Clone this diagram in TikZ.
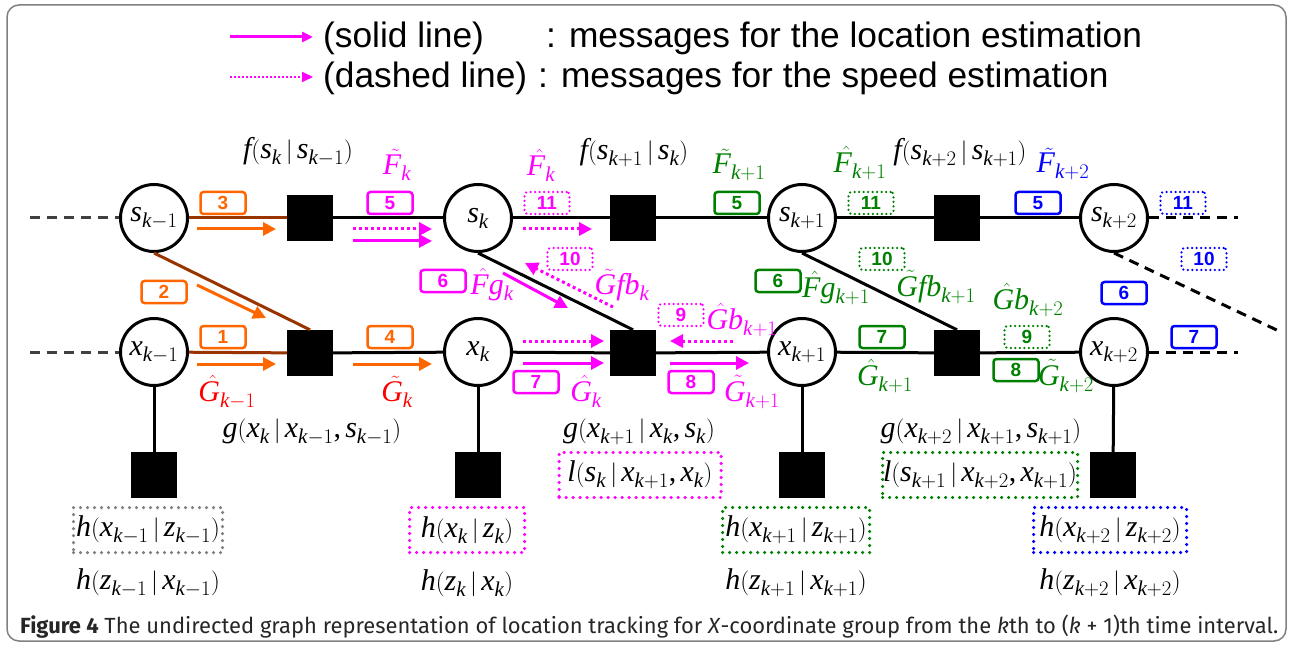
\documentclass[tikz,border=0pt]{standalone}
\usepackage{fontspec}
\setmainfont{Liberation Serif}
\newfontfamily\arialf{Liberation Sans}
\newfontfamily\capf{Fira Sans}
\DeclareSymbolFont{letters}{TU}{\rmdefault}{m}{it}
\DeclareSymbolFont{trm}{TU}{\rmdefault}{m}{n}
\DeclareMathSymbol{0}{\mathalpha}{trm}{`0}
\DeclareMathSymbol{1}{\mathalpha}{trm}{`1}
\DeclareMathSymbol{2}{\mathalpha}{trm}{`2}
\DeclareMathSymbol{(}{\mathopen}{trm}{`(}
\DeclareMathSymbol{)}{\mathclose}{trm}{`)}
\DeclareMathSymbol{,}{\mathpunct}{trm}{`,}
\DeclareMathSymbol{+}{\mathbin}{trm}{`+}
\usepackage{graphicx}
\usetikzlibrary{arrows.meta}
\definecolor{mag}{RGB}{255,0,255}
\definecolor{org}{RGB}{255,102,0}
\definecolor{brn}{RGB}{153,51,0}
\definecolor{grn}{RGB}{0,128,0}
\definecolor{blu}{RGB}{0,0,255}
\definecolor{rd}{RGB}{255,0,0}
\definecolor{gry}{RGB}{128,128,128}
\definecolor{dgry}{RGB}{64,64,64}
\newcommand\mfont{\fontsize{30}{34}\selectfont}
\newcommand\nfont{\arialf\bfseries\fontsize{19}{19}\selectfont}
\newcommand\hatx[1]{\skew{5}{\hat}{#1}}
\newcommand\tilx[1]{\skew{5}{\tilde}{#1}}
\tikzset{
  var/.style={circle,draw,line width=3pt,minimum size=67pt,inner sep=0pt,font=\mfont},
  fac/.style={fill=black,minimum size=46pt,inner sep=0pt},
  num/.style={draw,rounded corners=3pt,line width=2.5pt,minimum width=45pt,minimum height=22pt,inner sep=0pt,font=\nfont,text=black},
  numdot/.style={num,dash pattern=on 0pt off 4.5pt,line cap=round},
  lab/.style={font=\mfont,inner sep=0pt},
  fbox/.style={dash pattern=on 0pt off 7pt,line cap=round,line width=3.5pt,inner sep=0pt,minimum height=45pt,font=\mfont,text=black},
  edge/.style={line width=3pt},
  dashedge/.style={line width=3pt,dash pattern=on 10pt off 7pt},
  msg/.style={line width=3pt,-{Triangle[length=13pt,width=13pt]}},
  msgdot/.style={msg,dash pattern=on 3pt off 3pt},
  legtext/.style={anchor=base west,inner sep=0pt,font=\arialf\fontsize{35.3}{36}\selectfont},
}
\begin{document}
\begin{tikzpicture}[x=1pt,y=-1pt]
\useasboundingbox (0,0) rectangle (1291,647);
\draw[gry,line width=1.5pt,rounded corners=12pt] (7,5) rectangle (1286,641);

% legend
\coordinate (la1) at (230,37); \coordinate (la2) at (313,37);
\coordinate (lb1) at (230,77); \coordinate (lb2) at (313,77);
\draw[mag,line width=3pt,-{Triangle[length=11pt,width=10pt]}] (la1) -- (la2);
\draw[mag,line width=2pt,dash pattern=on 2pt off 2pt,-{Triangle[length=11pt,width=10pt]}] (lb1) -- (lb2);
\node[legtext] (lt1) at (323,48) {(solid line)};
\node[legtext] (lt2) at (546,48) {: messages for the location estimation};
\node[legtext] (lt3) at (323,88) {(dashed line)};
\node[legtext] (lt4) at (538,88) {: messages for the speed estimation};

% variable nodes
\node[var] (sA) at (154,218) {$s_{k-1}$};
\node[var] (sB) at (478,218) {$s_k$};
\node[var] (sC) at (802,218) {$s_{k+1}$};
\node[var] (sD) at (1114,218) {$s_{k+2}$};
\node[var] (xA) at (154,352) {$x_{k-1}$};
\node[var] (xB) at (478,352) {$x_k$};
\node[var] (xC) at (802,352) {$x_{k+1}$};
\node[var] (xD) at (1114,352) {$x_{k+2}$};
% factor nodes
\node[fac] (fA) at (310,218) {};
\node[fac] (fB) at (633,218) {};
\node[fac] (fC) at (957,218) {};
\node[fac] (gA) at (310,353) {};
\node[fac] (gB) at (633,353) {};
\node[fac] (gC) at (957,353) {};
\node[fac] (hA) at (154,475) {};
\node[fac] (hB) at (478,475) {};
\node[fac] (hC) at (802,475) {};
\node[fac] (hD) at (1113,475) {};

% edges
\draw[edge,brn] (sA) -- (fA);
\draw[edge,brn] (sA.south) -- (gA.north);
\draw[edge,brn] (xA) -- (gA);
\draw[edge] (fA) -- (sB) -- (fB) -- (sC) -- (fC) -- (sD);
\draw[edge] (gA) -- (xB) -- (gB) -- (xC) -- (gC) -- (xD);
\draw[edge] (sB.south) -- (gB.north);
\draw[edge] (sC.south) -- (gC.north);
\draw[edge] (xA) -- (hA);
\draw[edge] (xB) -- (hB);
\draw[edge] (xC) -- (hC);
\draw[edge] (xD) -- (hD);
\coordinate (lA) at (30,218); \coordinate (lB) at (30,352);
\coordinate (rA) at (1238,218); \coordinate (rB) at (1238,352); \coordinate (rC) at (1283,333);
\draw[dashedge,dgry] (lA) -- (sA);
\draw[dashedge,dgry] (lB) -- (xA);
\draw[dashedge] (sD) -- (rA);
\draw[dashedge] (xD) -- (rB);
\draw[dashedge] (sD.south) -- (rC);

% message arrows
\draw[msg,org] (197,229) -- (276,229);
\draw[msg,org] (197,285) -- (266,318);
\draw[msg,org] (197,364) -- (276,364);
\draw[msg,org] (353,364) -- (432,364);
\draw[msgdot,mag] (353,229) -- (432,229);
\draw[msg,mag] (353,241) -- (432,241);
\draw[msgdot,mag] (523,229) -- (592,229);
\draw[msg,mag] (503,273) -- (568,308);
\draw[msgdot,mag] (613,307) -- (525,263);
\draw[msgdot,mag] (523,341) -- (604,341);
\draw[msg,mag] (523,363) -- (604,363);
\draw[msgdot,mag] (733,341) -- (670,341);
\draw[msg,mag] (670,363) -- (749,363);

% number boxes
\node[num,org] (n3) at (223,203) {3};
\node[num,org] (n2) at (164,292) {2};
\node[num,org] (n1) at (223,337) {1};
\node[num,org] (n4) at (390,337) {4};
\node[num,mag] (n5a) at (390,203) {5};
\node[numdot,mag] (n11a) at (547,203) {11};
\node[numdot,mag] (n10a) at (570,259) {10};
\node[num,mag] (n6a) at (443,281) {6};
\node[numdot,mag] (n9a) at (681,315) {9};
\node[num,mag] (n7a) at (536,382) {7};
\node[num,mag] (n8a) at (691,382) {8};
\node[num,grn] (n5b) at (737,203) {5};
\node[numdot,grn] (n11b) at (871,203) {11};
\node[numdot,grn] (n10b) at (882,259) {10};
\node[num,grn] (n6b) at (778,281) {6};
\node[num,grn] (n7b) at (882,337) {7};
\node[numdot,grn] (n9b) at (1027,337) {9};
\node[num,grn] (n8b) at (1016,370) {8};
\node[num,blu] (n5c) at (1038,203) {5};
\node[numdot,blu] (n11c) at (1183,203) {11};
\node[numdot,blu] (n10c) at (1204,259) {10};
\node[num,blu] (n6c) at (1124,293) {6};
\node[num,blu] (n7c) at (1194,337) {7};

% math labels
\node[lab] (tf1) at (298,152) {$f(s_k\,|\,s_{k-1})$};
\node[lab,mag] (tF1) at (397,165) {$\tilx{F}_k$};
\node[lab,mag] (tF2) at (541,165) {$\hatx{F}_k$};
\node[lab] (tf2) at (634,153) {$f(s_{k+1}\,|\,s_k)$};
\node[lab,grn] (tF3) at (739,165) {$\tilx{F}_{k+1}$};
\node[lab,grn] (tF4) at (860,163) {$\hatx{F}_{k+1}$};
\node[lab] (tf3) at (960,153) {$f(s_{k+2}\,|\,s_{k+1})$};
\node[lab,blu] (tF5) at (1063,164) {$\tilx{F}_{k+2}$};

\node[lab,mag] (tFg1) at (492,285) {$\hatx{F}g_k$};
\node[lab,mag] (tGf1) at (622,285) {$\tilx{G}fb_k$};
\node[lab,mag] (tGb1) at (742,320) {$\hatx{G}b_{k+1}$};
\node[lab,grn] (tFg2) at (836,288) {$\hatx{F}g_{k+1}$};
\node[lab,grn] (tGf2) at (936,287) {$\tilx{G}fb_{k+1}$};
\node[lab,grn] (tGb2) at (1028,300) {$\hatx{G}b_{k+2}$};

\node[lab,rd] (tG1) at (227,392) {$\hatx{G}_{k-1}$};
\node[lab,rd] (tG2) at (397,392) {$\tilx{G}_k$};
\node[lab,mag] (tG3) at (586,391) {$\hatx{G}_k$};
\node[lab,mag] (tG4) at (752,392) {$\tilx{G}_{k+1}$};
\node[lab,grn] (tG5) at (885,376) {$\hatx{G}_{k+1}$};
\node[lab,grn] (tG6) at (1066,376) {$\tilx{G}_{k+2}$};

\node[lab] (tg1) at (312,432) {$g(x_k\,|\,x_{k-1},s_{k-1})$};
\node[lab] (tg2) at (639,432) {$g(x_{k+1}\,|\,x_k,s_k)$};
\node[lab] (tg3) at (981,432) {$g(x_{k+2}\,|\,x_{k+1},s_{k+1})$};

\node[fbox,draw=mag,minimum width=162pt] (bl1) at (640,475) {$l(s_k\,|\,x_{k+1},x_k)$};
\node[fbox,draw=grn,minimum width=195pt] (bl2) at (980,475) {$l(s_{k+1}\,|\,x_{k+2},x_{k+1})$};

\node[fbox,draw=gry,minimum width=149pt] (bh1) at (148,530) {$h(x_{k-1}\,|\,z_{k-1})$};
\node[fbox,draw=mag,minimum width=115pt] (bh2) at (467,530) {$h(x_k\,|\,z_k)$};
\node[fbox,draw=grn,minimum width=147pt] (bh3) at (796,530) {$h(x_{k+1}\,|\,z_{k+1})$};
\node[fbox,draw=blu,minimum width=153pt] (bh4) at (1110,530) {$h(x_{k+2}\,|\,z_{k+2})$};

\node[lab] (tz1) at (148,583) {$h(z_{k-1}\,|\,x_{k-1})$};
\node[lab] (tz2) at (467,583) {$h(z_k\,|\,x_k)$};
\node[lab] (tz3) at (796,583) {$h(z_{k+1}\,|\,x_{k+1})$};
\node[lab] (tz4) at (1110,583) {$h(z_{k+2}\,|\,x_{k+2})$};

% caption
\node[anchor=west,inner sep=0pt,text=black!85] (cap) at (20,627) {\resizebox{1258pt}{!}{\capf\fontsize{20}{24}\selectfont\textbf{Figure 4} The undirected graph representation of location tracking for \textit{X}-coordinate group from the \textit{k}th to (\textit{k} + 1)th time interval.}};
\end{tikzpicture}
\end{document}
